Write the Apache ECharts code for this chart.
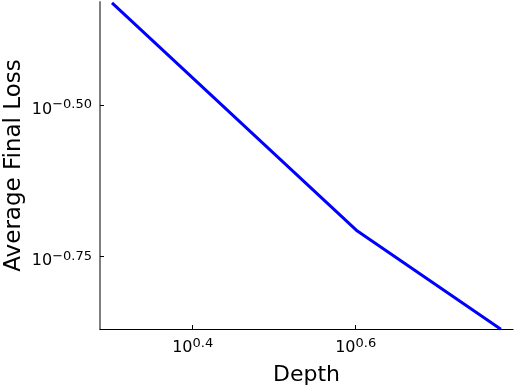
<!DOCTYPE html>
<html>
<head>
<meta charset="utf-8">
<script src="https://cdn.jsdelivr.net/npm/echarts@6/dist/echarts.min.js"></script>
<style>
  html, body { margin: 0; padding: 0; background: #fff; }
  #chart { width: 514px; height: 390px; }
</style>
</head>
<body>
<div id="chart"></div>
<script>
const depths = [2, 4, 6];
const avgFinalLoss = [0.466, 0.196, 0.135];
const xTickExps = [0.4, 0.6];
const yTickExps = [-0.75, -0.5];

// axes drawn in log10 space
const seriesData = depths.map((d, i) => [Math.log10(d), Math.log10(avgFinalLoss[i])]);

const powLabel = (exp, digits) => {
  const s = exp.toFixed(digits).replace('-', '\u2212');
  return '{b|10}{e|' + s + '}';
};
const richStyle = {
  b: { fontSize: 16, fontFamily: 'DejaVu Sans', color: '#000', verticalAlign: 'bottom', lineHeight: 19 },
  e: { fontSize: 13, fontFamily: 'DejaVu Sans', color: '#000', verticalAlign: 'top', lineHeight: 19 }
};

const myChart = echarts.init(document.getElementById('chart'));
const option = {
  animation: false,
  grid: { left: 100, right: 1, top: 2, bottom: 61, outerBoundsMode: 'none', containLabel: false },
  xAxis: {
    type: 'value',
    min: 0.2863,
    max: 0.793,
    name: 'Depth',
    nameLocation: 'middle',
    nameGap: 35,
    nameMoveOverlap: false,
    nameTextStyle: { fontSize: 22, fontFamily: 'DejaVu Sans', color: '#000' },
    axisLine: { show: true, lineStyle: { color: '#000', width: 1.2 } },
    axisTick: { show: true, inside: true, length: 4, customValues: xTickExps, lineStyle: { color: '#000' } },
    axisLabel: {
      customValues: xTickExps,
      margin: 8,
      formatter: v => powLabel(v, 1),
      rich: richStyle
    },
    splitLine: { show: false }
  },
  yAxis: {
    type: 'value',
    min: -0.8692,
    max: -0.3303,
    name: 'Average Final Loss',
    nameLocation: 'middle',
    nameGap: 74,
    nameMoveOverlap: false,
    nameTextStyle: { fontSize: 23, fontFamily: 'DejaVu Sans', color: '#000' },
    axisLine: { show: true, lineStyle: { color: '#808080', width: 2 } },
    axisTick: { show: true, inside: true, length: 4, customValues: yTickExps, lineStyle: { color: '#000' } },
    axisLabel: {
      customValues: yTickExps,
      margin: 8,
      padding: [6, 0, 0, 0],
      formatter: v => powLabel(v, 2),
      rich: richStyle
    },
    splitLine: { show: false }
  },
  series: [
    {
      type: 'line',
      data: seriesData,
      showSymbol: false,
      clip: false,
      lineStyle: { color: '#0000ff', width: 3 }
    }
  ]
};
myChart.setOption(option);
</script>
</body>
</html>
